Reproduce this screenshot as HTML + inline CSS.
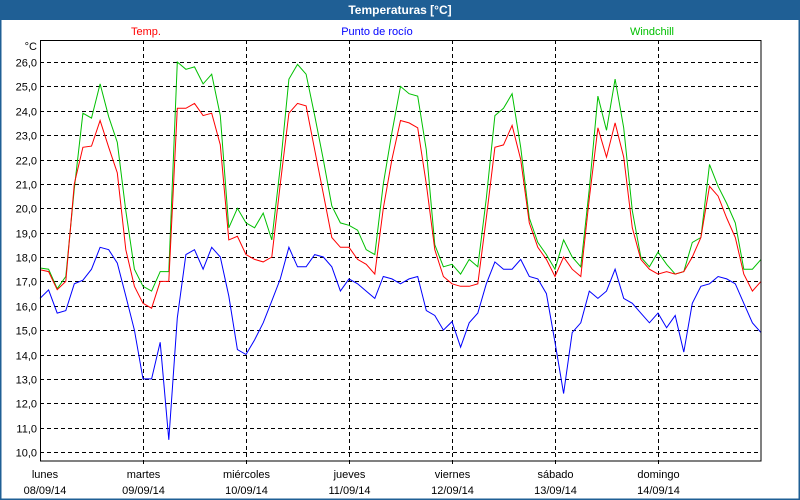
<!DOCTYPE html>
<html><head><meta charset="utf-8">
<style>
html,body{margin:0;padding:0;background:#fff;}
#wrap{position:relative;width:800px;height:500px;overflow:hidden;font-family:"Liberation Sans",sans-serif;}
svg text{font-family:"Liberation Sans",sans-serif;}
</style></head>
<body>
<div id="wrap">
<svg id="chart" width="800" height="500" viewBox="0 0 800 500">
  <rect x="0" y="0" width="800" height="500" fill="#fff"/>
  <rect x="0" y="0" width="800" height="20" fill="#1f5f95"/>
  <rect x="0.5" y="0.5" width="799" height="499" fill="none" stroke="#1f5f95" stroke-width="2"/>
  <text x="400" y="14" text-anchor="middle" fill="#fff" font-size="12" font-weight="bold">Temperaturas [°C]</text>
  <text x="146" y="35" text-anchor="middle" fill="#ff0000" font-size="11">Temp.</text>
  <text x="377" y="35" text-anchor="middle" fill="#0000ff" font-size="11">Punto de rocío</text>
  <text x="652" y="35" text-anchor="middle" fill="#00c000" font-size="11">Windchill</text>
  <text x="37" y="50" text-anchor="end" fill="#000" font-size="11">°C</text>
  <g id="grid"></g>
  <g id="series"></g>
  <rect x="40.5" y="40.5" width="720.5" height="420.5" fill="none" stroke="#000" stroke-width="1"/>
  <g id="labels"></g>
</svg>
</div>
<script>
const dayNames = ["lunes","martes","miércoles","jueves","viernes","sábado","domingo"];
const dayDates = ["08/09/14","09/09/14","10/09/14","11/09/14","12/09/14","13/09/14","14/09/14"];
const yTicks = [10,11,12,13,14,15,16,17,18,19,20,21,22,23,24,25,26];
// values every 2 hours, 85 points from 08/09 00:00 to 15/09 00:00
const tempValues = [
17.48,17.4,16.66,17.0,21.0,22.5,22.55,23.6,22.5,21.45,18.3,16.8,
16.1,15.9,17.0,17.0,24.1,24.1,24.3,23.8,23.9,22.6,18.7,18.85,
18.1,17.9,17.8,18.0,21.0,23.9,24.3,24.2,22.4,20.6,18.8,18.4,
18.4,17.9,17.7,17.3,20.0,22.0,23.6,23.5,23.3,21.0,18.3,17.2,
16.9,16.8,16.8,16.9,19.6,22.5,22.6,23.4,22.0,19.4,18.4,17.9,
17.2,18.0,17.5,17.2,20.4,23.3,22.1,23.5,22.1,19.2,17.9,17.5,
17.3,17.4,17.3,17.4,18.0,18.8,20.9,20.5,19.6,18.8,17.3,16.6,
17.0];
const windchillValues = [
17.55,17.5,16.7,17.2,20.8,23.9,23.7,25.1,23.75,22.7,19.9,17.5,
16.8,16.6,17.4,17.4,26.0,25.7,25.8,25.1,25.5,23.8,19.2,20.0,
19.4,19.2,19.8,18.7,21.7,25.3,25.9,25.5,23.8,22.0,20.1,19.4,
19.3,19.1,18.3,18.1,21.0,23.1,25.0,24.7,24.6,22.4,18.5,17.6,
17.7,17.3,17.9,17.6,20.4,23.8,24.1,24.7,22.5,19.6,18.6,18.1,
17.5,18.7,18.0,17.6,20.8,24.6,23.2,25.3,23.3,19.9,18.0,17.6,
18.2,17.7,17.3,17.4,18.6,18.8,21.8,20.9,20.2,19.4,17.5,17.5,
17.9];
const dewpointValues = [
16.3,16.65,15.7,15.8,16.9,17.05,17.5,18.4,18.3,17.75,16.4,15.0,
13.0,13.0,14.5,10.5,15.5,18.1,18.3,17.5,18.4,18.0,16.4,14.2,
14.0,14.6,15.3,16.2,17.1,18.4,17.6,17.6,18.1,18.0,17.6,16.6,
17.1,16.9,16.6,16.3,17.2,17.1,16.9,17.1,17.2,15.8,15.6,15.0,
15.35,14.3,15.3,15.7,16.9,17.8,17.5,17.5,17.9,17.2,17.1,16.5,
14.5,12.4,14.9,15.3,16.6,16.3,16.6,17.5,16.3,16.1,15.7,15.3,
15.7,15.1,15.6,14.1,16.1,16.8,16.9,17.2,17.1,16.9,16.1,15.3,
14.9];

const NS = "http://www.w3.org/2000/svg";
const X0 = 40, X1 = 761, Y26 = 62, PX_PER_DEG = 24.375;
const totalSteps = 84;
function xScale(i){ return X0 + (X1 - X0) * i / totalSteps; }
function dayX(d){ return X0 + (X1 - X0) * d / 7; }
function yScale(v){ return Y26 + (26 - v) * PX_PER_DEG; }

const grid = document.getElementById('grid');
yTicks.forEach(function(t){
  const y = Math.round(yScale(t)) + 0.5;
  const ln = document.createElementNS(NS,'line');
  ln.setAttribute('x1',X0); ln.setAttribute('x2',X1);
  ln.setAttribute('y1',y); ln.setAttribute('y2',y);
  ln.setAttribute('stroke','#000'); ln.setAttribute('stroke-dasharray','4,3');
  
  
  grid.appendChild(ln);
  const tx = document.createElementNS(NS,'text');
  tx.setAttribute('x',37); tx.setAttribute('y',y+4);
  tx.setAttribute('text-anchor','end'); tx.setAttribute('font-size','11');
  tx.textContent = t.toFixed(1).replace('.',',');
  
  
  grid.appendChild(tx);
});
const labels = document.getElementById('labels');
dayNames.forEach(function(n,d){
  const x = Math.round(dayX(d)) + 0.5;
  if (d > 0) {
    const ln = document.createElementNS(NS,'line');
    ln.setAttribute('x1',x); ln.setAttribute('x2',x);
    ln.setAttribute('y1',40); ln.setAttribute('y2',465);
    ln.setAttribute('stroke','#000'); ln.setAttribute('stroke-dasharray','4,3');
    
    
    grid.appendChild(ln);
  }
  const cx = d === 0 ? 45 : x;
  const t1 = document.createElementNS(NS,'text');
  t1.setAttribute('x',cx); t1.setAttribute('y',478);
  t1.setAttribute('text-anchor','middle'); t1.setAttribute('font-size','11');
  t1.textContent = n;
  
  
  labels.appendChild(t1);
  const t2 = document.createElementNS(NS,'text');
  t2.setAttribute('x',cx); t2.setAttribute('y',494);
  t2.setAttribute('text-anchor','middle'); t2.setAttribute('font-size','11');
  t2.textContent = dayDates[d];
  
  
  labels.appendChild(t2);
});

const series = document.getElementById('series');
function drawLine(vals, color, name){
  const pts = vals.map(function(v,i){ return xScale(i).toFixed(1)+','+yScale(v).toFixed(1); }).join(' ');
  const pl = document.createElementNS(NS,'polyline');
  pl.setAttribute('points',pts);
  pl.setAttribute('fill','none');
  pl.setAttribute('stroke',color);
  pl.setAttribute('stroke-width','1');
  
  
  series.appendChild(pl);
}
drawLine(dewpointValues,'#0000ff','dewpoint-line');
drawLine(windchillValues,'#00c000','windchill-line');
drawLine(tempValues,'#ff0000','temp-line');
</script>
</body></html>
